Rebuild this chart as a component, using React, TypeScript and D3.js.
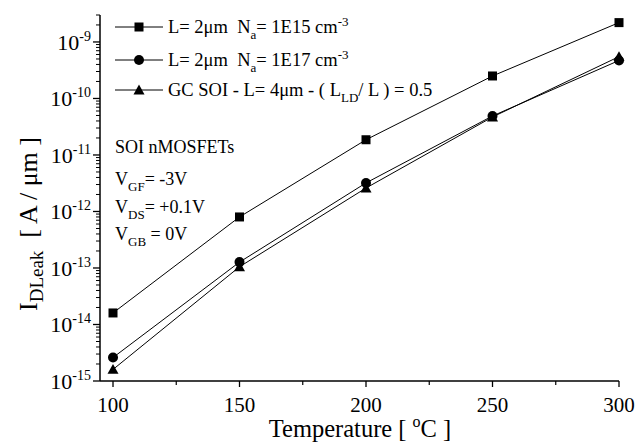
import React from "react";
import * as d3 from "d3";

const temps = [100, 150, 200, 250, 300];
const seriesSquare = [1.6e-14, 8e-13, 1.86e-11, 2.5e-10, 2.2e-9];
const seriesCircle = [2.6e-15, 1.27e-13, 3.2e-12, 4.9e-11, 4.7e-10];
const seriesTriangle = [1.6e-15, 1.05e-13, 2.6e-12, 4.7e-11, 5.5e-10];
const xTicks = [100, 150, 200, 250, 300];
const xMinorTicks = [125, 175, 225, 275];
const yExponents = [-15, -14, -13, -12, -11, -10, -9];

const W = 639;
const H = 443;
const FONT = "'Liberation Serif', 'Times New Roman', serif";

function Marker({ type, x, y }: { type: string; x: number; y: number }) {
  if (type === "square") return <rect x={x - 4.5} y={y - 4.5} width={9} height={9} fill="#000" />;
  if (type === "circle") return <circle cx={x} cy={y} r={5} fill="#000" />;
  const s = 5.5;
  return <path d={`M${x},${y - s}L${x + s},${y + s * 0.8}L${x - s},${y + s * 0.8}Z`} fill="#000" />;
}

export default function App() {
  const x = d3.scaleLinear().domain([94.86, 300]).range([100, 619]);
  const y = d3.scaleLog().domain([1e-15, 3e-9]).range([381, 15]);
  const line = d3
    .line<number>()
    .x((_, i) => x(temps[i]))
    .y((d) => y(d));

  const minor: number[] = [];
  for (const e of yExponents) {
    for (let m = 2; m <= 9; m++) {
      const v = m * Math.pow(10, e);
      if (v <= 3.0001e-9) minor.push(v);
    }
  }

  const series = [
    { type: "triangle", data: seriesTriangle },
    { type: "circle", data: seriesCircle },
    { type: "square", data: seriesSquare },
  ];

  const legendRows = [
    { type: "square", y: 27 },
    { type: "circle", y: 60 },
    { type: "triangle", y: 90 },
  ];

  return (
    <svg width={W} height={H} style={{ position: "absolute", left: 0, top: 0, background: "#fff" }} fontFamily={FONT}>
      <rect width={W} height={H} fill="#fff" />
      {/* axes */}
      <line x1={100} y1={y(3e-9)} x2={100} y2={381} stroke="#000" strokeWidth={1.5} />
      <line x1={100} y1={381} x2={x(300)} y2={381} stroke="#000" strokeWidth={1.5} />
      {yExponents.map((e) => (
        <line key={e} x1={93} x2={100} y1={y(Math.pow(10, e))} y2={y(Math.pow(10, e))} stroke="#000" strokeWidth={1.3} />
      ))}
      {minor.map((v, i) => (
        <line key={i} x1={96} x2={100} y1={y(v)} y2={y(v)} stroke="#000" strokeWidth={1} />
      ))}
      {xTicks.map((t) => (
        <line key={t} x1={x(t)} x2={x(t)} y1={381} y2={387} stroke="#000" strokeWidth={1.3} />
      ))}
      {xMinorTicks.map((t) => (
        <line key={t} x1={x(t)} x2={x(t)} y1={381} y2={385} stroke="#000" strokeWidth={1.2} />
      ))}
      {/* tick labels */}
      {yExponents.map((e) => (
        <text key={e} x={91} y={y(Math.pow(10, e)) + 8} textAnchor="end" fontSize={22}>
          10
          <tspan dy={-9} fontSize={14}>
            {String(e)}
          </tspan>
        </text>
      ))}
      {xTicks.map((t) => (
        <text key={t} x={x(t)} y={412} textAnchor="middle" fontSize={21}>
          {t}
        </text>
      ))}
      {/* axis titles */}
      <text x={360} y={437} textAnchor="middle" fontSize={24.5} style={{ whiteSpace: "pre" }}>
        Temperature [ <tspan dy={-10} fontSize={16}>o</tspan>
        <tspan dy={10}>C ]</tspan>
      </text>
      <text transform="translate(37,224) rotate(-90)" textAnchor="middle" fontSize={26} style={{ whiteSpace: "pre" }}>
        I<tspan dy={6} fontSize={19}>DLeak</tspan>
        <tspan dy={-6}>{"  [ A / \u03bcm ]"}</tspan>
      </text>
      {/* series */}
      {series.map((s) => (
        <path key={s.type} d={line(s.data) || ""} fill="none" stroke="#000" strokeWidth={1} />
      ))}
      {series.map((s) =>
        s.data.map((d, i) => <Marker key={s.type + i} type={s.type} x={x(temps[i])} y={y(d)} />)
      )}
      {/* legend */}
      {legendRows.map((r) => (
        <g key={r.type}>
          <line x1={115} x2={163} y1={r.y} y2={r.y} stroke="#000" strokeWidth={1} />
          <Marker type={r.type} x={139} y={r.y} />
        </g>
      ))}
      <text x={168} y={33} fontSize={18.5} style={{ whiteSpace: "pre" }}>
        {"L= 2\u03bcm  N"}
        <tspan dy={6} fontSize={13}>a</tspan>
        <tspan dy={-6}>{"= 1E15 cm"}</tspan>
        <tspan dy={-7} fontSize={13}>-3</tspan>
      </text>
      <text x={168} y={66} fontSize={18.5} style={{ whiteSpace: "pre" }}>
        {"L= 2\u03bcm  N"}
        <tspan dy={6} fontSize={13}>a</tspan>
        <tspan dy={-6}>{"= 1E17 cm"}</tspan>
        <tspan dy={-7} fontSize={13}>-3</tspan>
      </text>
      <text x={168} y={96} fontSize={18.5} style={{ whiteSpace: "pre" }}>
        {"GC SOI - L= 4\u03bcm - ( L"}
        <tspan dy={6} fontSize={13}>LD</tspan>
        <tspan dy={-6}>{"/ L ) = 0.5"}</tspan>
      </text>
      {/* annotation */}
      <text x={115} y={153} fontSize={18}>SOI nMOSFETs</text>
      <text x={115} y={185} fontSize={18} style={{ whiteSpace: "pre" }}>
        V<tspan dy={6} fontSize={13}>GF</tspan>
        <tspan dy={-6}>= -3V</tspan>
      </text>
      <text x={115} y={213} fontSize={18} style={{ whiteSpace: "pre" }}>
        V<tspan dy={6} fontSize={13}>DS</tspan>
        <tspan dy={-6}>= +0.1V</tspan>
      </text>
      <text x={115} y={240} fontSize={18} style={{ whiteSpace: "pre" }}>
        V<tspan dy={6} fontSize={13}>GB</tspan>
        <tspan dy={-6}> = 0V</tspan>
      </text>
    </svg>
  );
}
